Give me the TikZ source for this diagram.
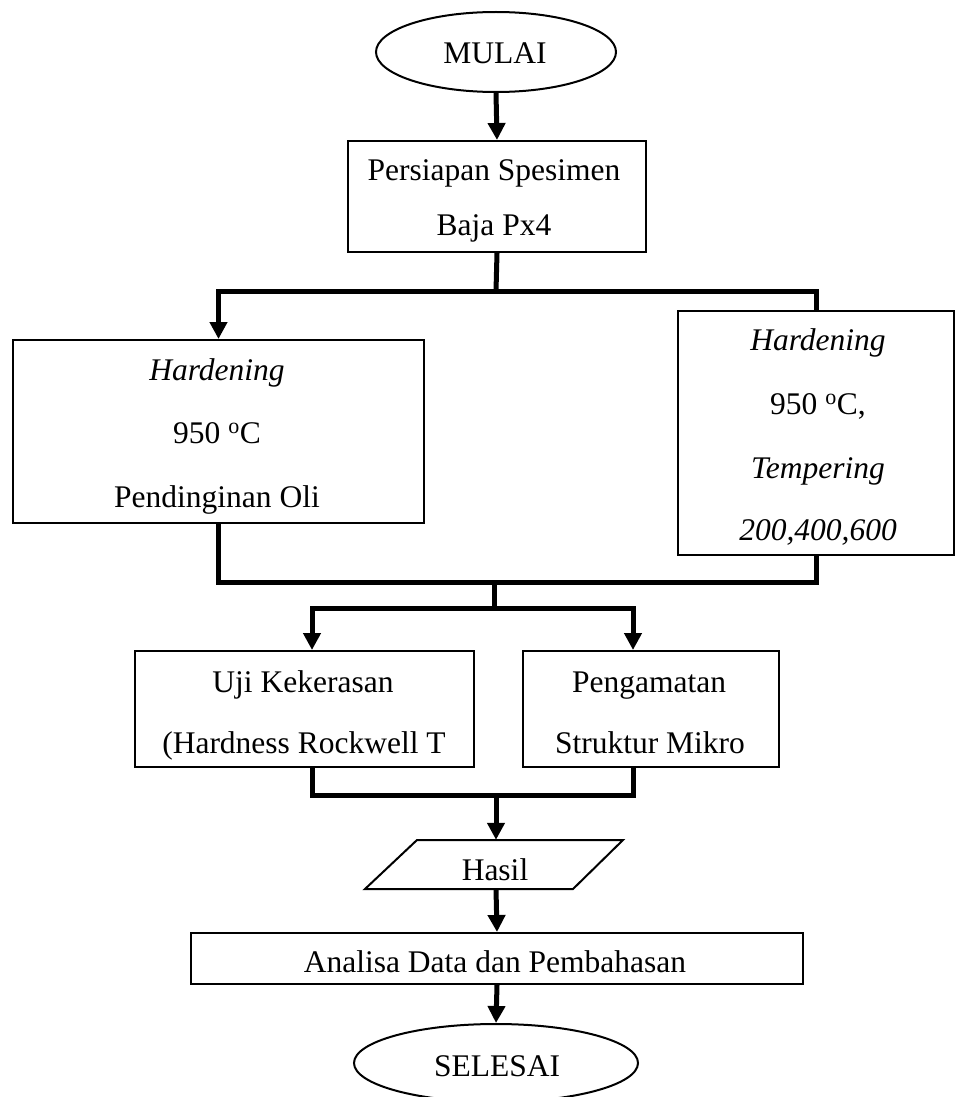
\documentclass[tikz,border=0pt]{standalone}
\usepackage{fontspec}
\setmainfont{Liberation Serif}
\usetikzlibrary{arrows.meta,shapes.geometric}
\begin{document}
\begin{tikzpicture}[x=1pt,y=-1pt,
  box/.style={draw, line width=2pt, rectangle, inner sep=0pt, anchor=north west},
  oval/.style={draw, line width=2pt, ellipse, inner sep=0pt},
  txt/.style={anchor=base, inner sep=0pt},
  conn/.style={line width=5pt, line join=miter},
  arr/.style={conn, -{Triangle[width=17pt,length=17pt]}},
  font=\fontsize{31.5}{38}\selectfont]
\useasboundingbox (0,0) rectangle (955,1097);

% shapes
\node[oval, minimum width=240pt, minimum height=80pt] (start) at (496,52) {};
\node[box, minimum width=298pt, minimum height=111pt] (prep) at (347,140) {};
\node[box, minimum width=411pt, minimum height=183pt] (hl) at (12,339) {};
\node[box, minimum width=276pt, minimum height=244pt] (hr) at (677,310) {};
\node[box, minimum width=339pt, minimum height=116pt] (uji) at (134,650) {};
\node[box, minimum width=256pt, minimum height=116pt] (peng) at (522,650) {};
\node[inner sep=0pt, minimum width=206pt, minimum height=49pt] (hasil) at (496,864.5) {};
\draw[line width=2pt, line join=miter] (417,840) -- (623,840) -- (573,889) -- (365,889) -- cycle;
\node[box, minimum width=612pt, minimum height=51pt] (ana) at (190,932) {};
\node[oval, minimum width=284pt, minimum height=78pt] (end) at (496,1063) {};

% texts
\node[txt] (tm) at (495,64) {MULAI};
\node[txt] (tp1) at (494,180) {Persiapan Spesimen};
\node[txt] (tp2) at (494,235) {Baja Px4};
\node[txt] (tl1) at (217,380) {\textit{Hardening}};
\node[txt] (tl2) at (217,443) {950 \textsuperscript{o}C};
\node[txt] (tl3) at (217,507) {Pendinginan Oli};
\node[txt] (tr1) at (818,350) {\textit{Hardening}};
\node[txt] (tr2) at (818,414) {950 \textsuperscript{o}C,};
\node[txt] (tr3) at (818,478) {\textit{Tempering}};
\node[txt] (tr4) at (818,540) {\textit{200,400,600}};
\node[txt] (tu1) at (303,692) {Uji Kekerasan};
\node[txt] (tu2) at (304,753) {(Hardness Rockwell T};
\node[txt] (tg1) at (649,692) {Pengamatan};
\node[txt] (tg2) at (650,753) {Struktur Mikro};
\node[txt] (th) at (495,880) {Hasil};
\node[txt] (ta) at (495,972) {Analisa Data dan Pembahasan};
\node[txt] (ts) at (497,1076) {SELESAI};

% connectors
\coordinate (s1) at (496,291);
\coordinate (s2) at (494,580);
\coordinate (s3) at (494,608);
\coordinate (s4) at (496,797);
\draw[arr] (start.south) -- (prep.north);
\draw[conn] (prep.south) -- (s1);
\draw[arr] (s1) -| (hl.north);
\draw[conn] (s1) -| (hr.north);
\draw[conn] (hl.south) -- ++(0,58) -| (hr.south);
\draw[conn] (s2) -- (s3);
\draw[arr] (s3) -| ([xshift=7.5pt]uji.north);
\draw[arr] (s3) -| ([xshift=-18pt]peng.north);
\draw[conn] ([xshift=7.5pt]uji.south) -- ++(0,27) -| ([xshift=-18pt]peng.south);
\draw[arr] (s4) -- (hasil.north);
\draw[arr] (hasil.south) -- (ana.north);
\draw[arr] (ana.south) -- (end.north);
\end{tikzpicture}
\end{document}
